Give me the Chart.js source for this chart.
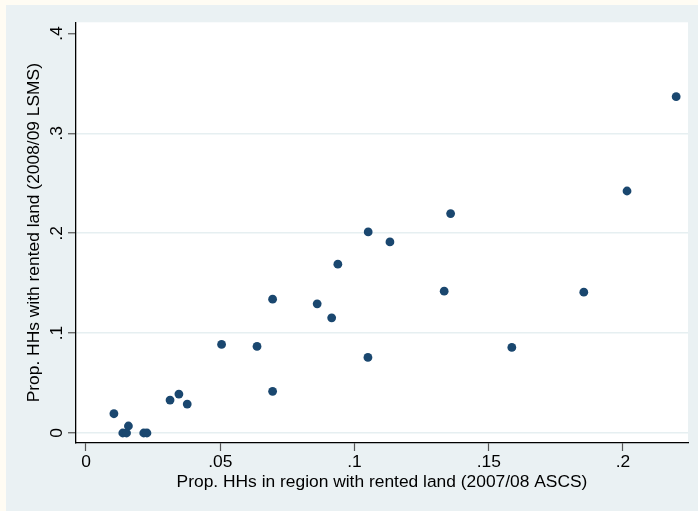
<!DOCTYPE html>
<html>
<head>
<meta charset="utf-8">
<title>Rented land scatter</title>
<script src="https://cdn.jsdelivr.net/npm/chart.js@4/dist/chart.umd.min.js"></script>
<style>
  html, body { margin: 0; padding: 0; background: #fffcf3; }
  #chart { display: block; }
</style>
</head>
<body>
<canvas id="chart" width="698" height="511"></canvas>
<script>
// values (regions)
const xValues = [0.0104, 0.0158, 0.0137, 0.0151, 0.0215, 0.0227, 0.0313, 0.0346, 0.0377, 0.0505,
                 0.0637, 0.0695, 0.0695, 0.0861, 0.0915, 0.0938, 0.1051, 0.1050, 0.1132, 0.1334,
                 0.1358, 0.1586, 0.1854, 0.2015, 0.2198];
const yValues = [0.0193, 0.0070, 0.0000, 0.0000, 0.0000, 0.0000, 0.0330, 0.0390, 0.0290, 0.0887,
                 0.0867, 0.1340, 0.0417, 0.1293, 0.1153, 0.1690, 0.2013, 0.0757, 0.1913, 0.1420,
                 0.2197, 0.0857, 0.1410, 0.2423, 0.3367];

const xTickValues = [0, 0.05, 0.1, 0.15, 0.2];
const xTickLabels = ['0', '.05', '.1', '.15', '.2'];
const yTickValues = [0, 0.1, 0.2, 0.3, 0.4];
const yTickLabels = ['0', '.1', '.2', '.3', '.4'];

const xTitle = 'Prop. HHs in region with rented land (2007/08 ASCS)';
const yTitle = 'Prop. HHs with rented land (2008/09 LSMS)';

const FONT = "'Liberation Sans', Arial, Helvetica, sans-serif";
const FONT_SIZE = 17.4;

const points = xValues.map((x, i) => ({ x: x, y: yValues[i] }));

// stata-like backgrounds: cream edge, bluish graph region, white plot region
const backgroundPlugin = {
    id: 'backgrounds',
    beforeDraw(chart) {
        const ctx = chart.ctx;
        const a = chart.chartArea;
        ctx.save();
        ctx.fillStyle = '#fffcf3';
        ctx.fillRect(0, 0, chart.width, chart.height);
        ctx.fillStyle = '#eaf1f3';
        ctx.fillRect(6, 5, chart.width - 6, chart.height - 5);
        ctx.fillStyle = '#ffffff';
        ctx.fillRect(a.left, a.top, a.right - a.left, a.bottom - a.top);
        ctx.restore();
    }
};

// y tick labels are rotated (read bottom to top)
const yLabelPlugin = {
    id: 'yLabels',
    afterDraw(chart) {
        const ctx = chart.ctx;
        const yScale = chart.scales.y;
        ctx.save();
        ctx.font = FONT_SIZE + 'px ' + FONT;
        ctx.fillStyle = '#000';
        ctx.textAlign = 'center';
        ctx.textBaseline = 'alphabetic';
        yTickValues.forEach((v, i) => {
            const py = yScale.getPixelForValue(v);
            ctx.save();
            ctx.translate(62, py);
            ctx.rotate(-Math.PI / 2);
            ctx.fillText(yTickLabels[i], 0, 0);
            ctx.restore();
        });
        ctx.restore();
    }
};

const ctx = document.getElementById('chart').getContext('2d');
new Chart(ctx, {
    type: 'scatter',
    data: {
        datasets: [{
            data: points,
            backgroundColor: '#1a476f',
            borderWidth: 0,
            pointRadius: 4.4,
            pointHoverRadius: 4.4
        }]
    },
    options: {
        responsive: false,
        animation: false,
        devicePixelRatio: 1,
        layout: { padding: { left: 0, top: 22.3, right: 10, bottom: 0 } },
        plugins: {
            legend: { display: false },
            tooltip: { enabled: false }
        },
        scales: {
            x: {
                type: 'linear',
                min: -0.003724,
                max: 0.22421,
                afterBuildTicks: (scale) => { scale.ticks = xTickValues.map(v => ({ value: v })); },
                afterFit: (scale) => { scale.height = 68; },
                ticks: {
                    callback: (value, index) => xTickLabels[index],
                    font: { family: FONT, size: FONT_SIZE },
                    color: '#000',
                    padding: 1,
                    maxRotation: 0
                },
                grid: {
                    drawOnChartArea: false,
                    drawTicks: true,
                    tickLength: 8,
                    tickColor: '#555',
                    tickWidth: 1.2
                },
                border: { color: '#000', width: 1.3 },
                title: {
                    display: true,
                    text: xTitle,
                    color: '#000',
                    font: { family: FONT, size: FONT_SIZE },
                    padding: { top: 0, bottom: 18.5 }
                }
            },
            y: {
                type: 'linear',
                min: -0.01001,
                max: 0.4112,
                afterBuildTicks: (scale) => { scale.ticks = yTickValues.map(v => ({ value: v })); },
                afterFit: (scale) => { scale.width = 76; },
                ticks: { display: false },
                grid: {
                    drawTicks: true,
                    tickLength: 8,
                    tickColor: '#555',
                    tickWidth: 1.2,
                    lineWidth: 1.5,
                    color: (c) => (c.tick && c.tick.value >= 0.4 ? 'rgba(0,0,0,0)' : '#e6eff1')
                },
                border: { color: '#000', width: 1.3 },
                title: {
                    display: true,
                    text: yTitle,
                    color: '#000',
                    font: { family: FONT, size: FONT_SIZE },
                    padding: { top: 24, bottom: 0 }
                }
            }
        }
    },
    plugins: [backgroundPlugin, yLabelPlugin]
});
</script>
</body>
</html>
